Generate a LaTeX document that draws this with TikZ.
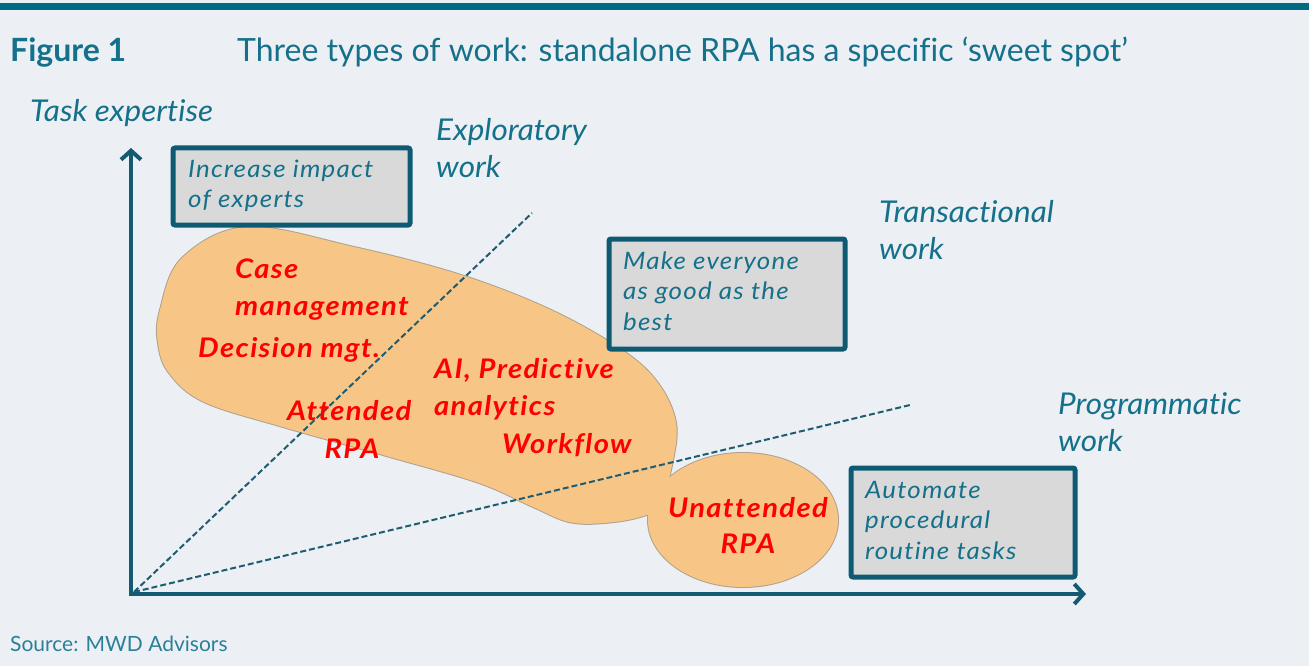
\documentclass[tikz,border=0pt]{standalone}
\usepackage{fontspec}
\setmainfont{Lato}[Ligatures=NoCommon]
\newfontfamily\labfont{Lato}[FakeStretch=1.05,Ligatures=NoCommon]
\newfontfamily\widefont{Lato}[FakeStretch=1.08,LetterSpace=5,Ligatures=NoCommon]
\usetikzlibrary{arrows.meta}
\definecolor{bgcol}{HTML}{ECF0F5}
\definecolor{bandcol}{HTML}{006B82}
\definecolor{tealtxt}{HTML}{15708A}
\definecolor{boxline}{HTML}{0E5A72}
\definecolor{boxfill}{HTML}{D9D9D9}
\definecolor{blobcol}{HTML}{F7C687}
\definecolor{blobedge}{HTML}{B0A18C}
\definecolor{axiscol}{HTML}{135B72}
\definecolor{dashcol}{HTML}{1F5C70}
\definecolor{srctxt}{HTML}{2A7F99}
\definecolor{hot}{HTML}{FF0000}
\begin{document}
\begin{tikzpicture}[x=1pt,y=-1pt,
  txt/.style={inner sep=0pt, anchor=base west},
  lbl/.style={txt, text=tealtxt, font=\labfont\itshape\fontsize{30}{34}\selectfont},
  boxtxt/.style={txt, text=tealtxt, font=\widefont\itshape\fontsize{24}{28}\selectfont},
  hottxt/.style={txt, text=hot, font=\widefont\bfseries\itshape\fontsize{27}{30}\selectfont},
  msgbox/.style={draw=boxline, fill=boxfill, line width=5pt, rounded corners=2pt},
  axisline/.style={draw=axiscol, line width=4pt, line join=miter},
  dashline/.style={draw=dashcol, line width=2pt, dash pattern=on 6pt off 3pt}
]
\useasboundingbox (0,0) rectangle (1309,666);
\fill[bgcol] (0,0) rectangle (1309,666);
\fill[bandcol] (0,3) rectangle (1309,10);

% heading
\node[txt, text=tealtxt, font=\bfseries\fontsize{32}{36}\selectfont] (fig) at (10,62) {Figure 1};
\node[txt, text=tealtxt, font=\fontsize{32}{36}\selectfont] (title) at (237,62)
  {Three types of work: standalone RPA has a specific ‘sweet spot’};

% axes
\coordinate (O) at (131,594);
\coordinate (ytip) at (131,148);
\coordinate (xtip) at (1086,594);
\node[lbl] (yl) at (30,122) {Task expertise};

% sweet-spot region: drawn with a wide edge, then filled over so only one outline remains
\def\blobpath{plot[smooth cycle, tension=0.6] coordinates {
  (247,227) (354,247) (461,275) (551,310) (622,350) (658,383) (676,423)
  (672,465) (660,505) (640,517) (604,523) (569,522) (533,507) (479,483)
  (390,457) (283,427) (204,402) (169,373) (158,343) (160,310) (182,258)}}
\draw[blobedge, line width=2pt] \blobpath;
\draw[blobedge, line width=2pt] (743,520) ellipse [x radius=95, y radius=67];
\fill[blobcol] \blobpath;
\fill[blobcol] (743,520) ellipse [x radius=95, y radius=67];

% work-type boundaries
\coordinate (d0) at (134,592);
\coordinate (e1) at (532,213);
\coordinate (e2) at (910,405);
\draw[dashline] (d0) -- (e1);
\draw[dashline] (d0) -- (e2);

\draw[axisline, {Straight Barb[length=9pt,width=20pt]}-{Straight Barb[length=9pt,width=20pt]}]
  (ytip) -- (O) -- (xtip);

% work-type labels
\node[lbl] (ex1) at (436,141) {Exploratory};
\node[lbl] (ex2) at (436,178) {work};
\node[lbl] (tr1) at (879,222) {Transactional};
\node[lbl] (tr2) at (879,259) {work};
\node[lbl] (pr1) at (1058,414) {Programmatic};
\node[lbl] (pr2) at (1058,451) {work};

% message boxes
\draw[msgbox] (173,148) rectangle (410,225);
\node[boxtxt] (b1a) at (188,178) {Increase impact};
\node[boxtxt] (b1b) at (188,207) {of experts};

\draw[msgbox] (609,239) rectangle (845,349);
\node[boxtxt] (b2a) at (623,269) {Make everyone};
\node[boxtxt] (b2b) at (623,299) {as good as the};
\node[boxtxt] (b2c) at (623,330) {best};

\draw[msgbox] (851,468) rectangle (1075,577);
\node[boxtxt] (b3a) at (865,498) {Automate};
\node[boxtxt] (b3b) at (865,528) {procedural};
\node[boxtxt] (b3c) at (865,559) {routine tasks};

% technologies
\node[hottxt] (cm1) at (235,278) {Case};
\node[hottxt] (cm2) at (235,315) {management};
\node[hottxt] (dm) at (198,357) {Decision mgt.};
\node[hottxt] (at1) at (287,420) {Attended};
\node[hottxt, anchor=base] (at2) at (352,458) {RPA};
\node[hottxt] (ai1) at (434,378) {AI, Predictive};
\node[hottxt] (ai2) at (434,415) {analytics};
\node[hottxt] (wf) at (502,453) {Workflow};
\node[hottxt, anchor=base] (un1) at (748,517) {Unattended};
\node[hottxt, anchor=base] (un2) at (748,553) {RPA};

% source
\node[txt, text=srctxt, font=\fontsize{21}{24}\selectfont] (src) at (10,651) {Source: MWD Advisors};
\end{tikzpicture}
\end{document}
